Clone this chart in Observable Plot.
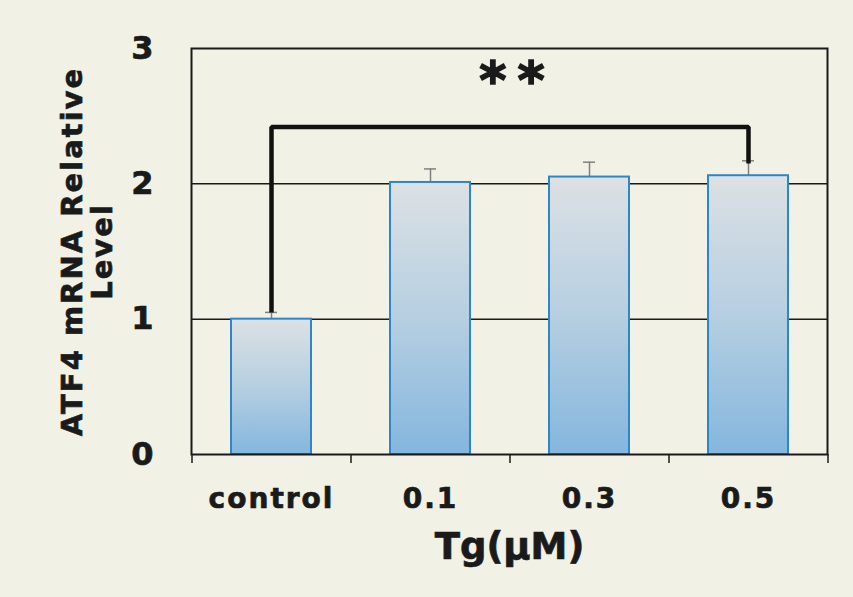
<!DOCTYPE html>
<html>
<head>
<meta charset="utf-8">
<script src="https://cdn.jsdelivr.net/npm/d3@7"></script>
<script src="https://cdn.jsdelivr.net/npm/@observablehq/plot@0.6"></script>
<style>
  html, body { margin: 0; padding: 0; background: #f1f1e6; }
  #chart { width: 853px; height: 597px; }
  svg { font-family: "DejaVu Sans", Verdana, sans-serif; font-weight: bold; }
  svg text { stroke: #1a1a1a; stroke-width: 0.7px; paint-order: stroke; }
</style>
</head>
<body>
<div id="chart"></div>
<script>
const categories = ["control", "0.1", "0.3", "0.5"];
const means = [1.00, 2.01, 2.05, 2.06];
const errors = [0.05, 0.10, 0.11, 0.11];
const yTicks = [0, 1, 2, 3];
const gridValues = [1, 2];
const bracketX = ["control", "control", "0.5", "0.5"];
const bracketY = [1.05, 2.42, 2.42, 2.15];
const sigText = "**";
const sigY = 2.8;
const xTitle = "Tg(μM)";
const yTitle = "ATF4 mRNA Relative\nLevel";

const rows = categories.map((c, i) => ({cat: c, mean: means[i], top: means[i] + errors[i]}));
const bracket = bracketX.map((x, i) => ({x, y: bracketY[i]}));

const W = 853, H = 597, ML = 191, MR = 26, MT = 48, MB = 143;
const step = (W - ML - MR) / categories.length;
const plotH = H - MT - MB;

const gradientDef = () => {
  const defs = document.createElementNS("http://www.w3.org/2000/svg", "defs");
  defs.innerHTML = `<linearGradient id="barGrad" x1="0" y1="0" x2="0" y2="1">
    <stop offset="0" stop-color="#dce1e4"/>
    <stop offset="0.5" stop-color="#b6cfe1"/>
    <stop offset="1" stop-color="#84b6de"/>
  </linearGradient>`;
  return defs;
};

const chart = Plot.plot({
  width: W, height: H,
  marginLeft: ML, marginRight: MR, marginTop: MT, marginBottom: MB,
  style: {background: "#f1f1e6", fontFamily: "DejaVu Sans, Verdana, sans-serif", fontWeight: "bold", color: "#1a1a1a"},
  x: {domain: categories, paddingInner: 0.5, paddingOuter: 0.25, label: null},
  y: {domain: [0, 3], label: null},
  marks: [
    gradientDef,
    Plot.gridY(gridValues, {stroke: "#1a1a1a", strokeOpacity: 1, strokeWidth: 1.5}),
    Plot.axisY(yTicks, {tickSize: 0, tickPadding: 38, fontSize: 32, fontWeight: "bold", label: null, fill: "#1a1a1a", tickFormat: d => String(d)}),
    Plot.axisX({tickSize: 0, tickPadding: 34, fontSize: 28, fontWeight: "bold", label: null, fill: "#1a1a1a"}),
    Plot.ruleX(categories, {x: d => d, dx: -step / 2, insetTop: plotH, insetBottom: -9, stroke: "#1a1a1a", strokeWidth: 1.5}),
    Plot.ruleX([categories[categories.length - 1]], {x: d => d, dx: step / 2, insetTop: plotH, insetBottom: -9, stroke: "#1a1a1a", strokeWidth: 1.5}),
    Plot.ruleX(rows, {x: "cat", y1: "mean", y2: "top", stroke: "#808080", strokeWidth: 1.5}),
    Plot.tickY(rows, {x: "cat", y: "top", stroke: "#808080", strokeWidth: 1.5, insetLeft: 34, insetRight: 34}),
    Plot.barY(rows, {x: "cat", y: "mean", fill: "url(#barGrad)", stroke: "#2f86c6", strokeWidth: 2}),
    Plot.frame({stroke: "#1a1a1a", strokeWidth: 2}),
    Plot.line(bracket, {x: "x", y: "y", stroke: "#111", strokeWidth: 4.5, strokeLinejoin: "miter", strokeLinecap: "butt"}),
    Plot.text([sigText], {y: sigY, text: d => d, fontSize: 52, fontWeight: "bold", fill: "#1a1a1a", dy: 6, dx: 8}),
    Plot.text([xTitle], {frameAnchor: "bottom", text: d => d, lineAnchor: "top", dy: 78, fontSize: 37, fontWeight: "bold", fill: "#1a1a1a"}),
    Plot.text([yTitle], {frameAnchor: "left", textAnchor: "middle", text: d => d, rotate: -90, dx: -104, lineHeight: 1.05, fontSize: 29, fontWeight: "bold", fill: "#1a1a1a"})
  ]
});
document.getElementById("chart").appendChild(chart);

// letter spacing to approximate the wider original face
const root = d3.select(chart);
root.selectAll('g[aria-label="x-axis tick label"] text').style("letter-spacing", "2px");
root.selectAll("text").each(function () {
  const t = this.textContent;
  if (t.startsWith("ATF4") || t.includes("Relative")) d3.select(this).style("letter-spacing", "2px");
  if (t === sigText) d3.select(this).style("letter-spacing", "11px").style("stroke-width", "1.5px");
});
</script>
</body>
</html>
